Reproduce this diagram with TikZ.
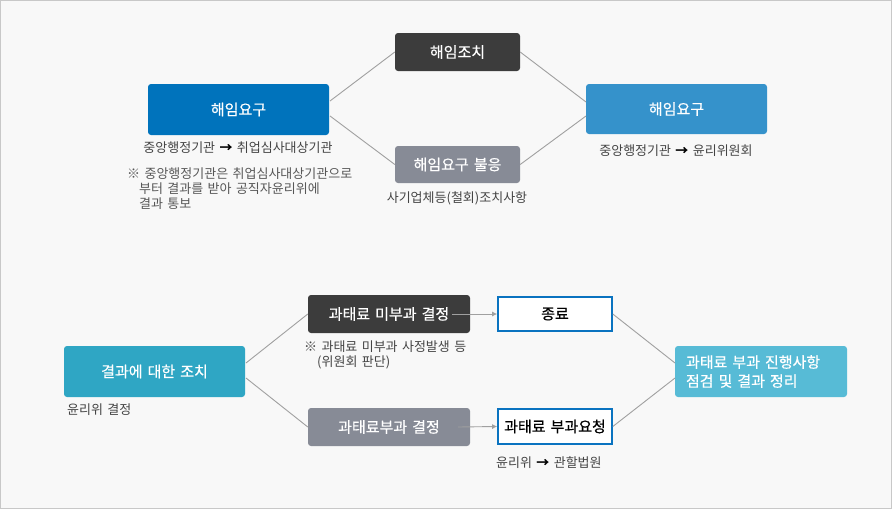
\documentclass[tikz,border=0pt]{standalone}
\usepackage{fontspec}
\setmainfont[WordSpace=1.5]{Noto Sans CJK KR}
\newfontfamily\medfont[WordSpace=1.5,FakeBold=0.6]{Noto Sans CJK KR}
\usetikzlibrary{arrows.meta}
\definecolor{bgc}{HTML}{F8F8F8}
\definecolor{framec}{HTML}{C8C8C8}
\definecolor{darkc}{HTML}{3C3C3C}
\definecolor{blueA}{HTML}{0073BC}
\definecolor{blueB}{HTML}{3592CB}
\definecolor{grayc}{HTML}{878B96}
\definecolor{tealA}{HTML}{2FA6C4}
\definecolor{tealB}{HTML}{57BBD6}
\definecolor{outl}{HTML}{0A73C0}
\definecolor{linec}{HTML}{A0A0A0}
\definecolor{txtc}{HTML}{444444}
\tikzset{
  box/.style={rounded corners=3pt, inner sep=0pt, text=white, font=\medfont\fontsize{15}{17}\selectfont},
  wbox/.style={draw=outl, line width=1.6pt, fill=white, inner sep=0pt, text=black, font=\medfont\fontsize{15}{17}\selectfont},
  conn/.style={draw=linec, line width=0.9pt},
  arr/.style={draw=linec, line width=0.9pt, -{Latex[length=5pt,width=5pt]}},
  lbl/.style={text=txtc, font=\fontsize{13}{15}\selectfont, inner sep=0pt},
}
\begin{document}
\begin{tikzpicture}[x=1pt,y=-1pt]
\fill[bgc] (0,0) rectangle (892,509);
\draw[framec, line width=1pt] (0.5,0.5) rectangle (891.5,508.5);
% top
\node[box, fill=blueA, minimum width=181pt, minimum height=51pt] (req1) at (238.5,109.5) {해임요구};
\node[box, fill=darkc, minimum width=125pt, minimum height=38pt] (act) at (457.5,52) {해임조치};
\node[box, fill=grayc, minimum width=125pt, minimum height=37pt] (ref) at (457.5,164.5) {해임요구 불응};
\node[box, fill=blueB, minimum width=181pt, minimum height=50pt] (req2) at (676.5,109) {해임요구};
\coordinate (r1a) at (330,101);
\coordinate (r1b) at (330,116);
\coordinate (r2a) at (586,102);
\coordinate (r2b) at (586,116);
\draw[conn] (r1a) -- (act.west);
\draw[conn] (r1b) -- (ref.west);
\draw[conn] (act.east) -- (r2a);
\draw[conn] (ref.east) -- (r2b);
\node[lbl] (l1) at (238,148) {중앙행정기관 \textcolor{black}{\textbf{→}} 취업심사대상기관};
\node[lbl, anchor=north west, align=left, text=txtc!90, font=\fontsize{13}{15}\selectfont] (n1) at (127,168) {※ 중앙행정기관은 취업심사대상기관으로\\\hspace*{12pt}부터 결과를 받아 공직자윤리위에\\\hspace*{12pt}결과 통보};
\node[lbl] (l2) at (457,198) {사기업체등(철회)조치사항};
\node[lbl] (l3) at (676,151) {중앙행정기관 \textcolor{black}{\textbf{→}} 윤리위원회};
% bottom
\node[box, fill=tealA, minimum width=181pt, minimum height=51pt] (res) at (154.5,371.5) {결과에 대한 조치};
\node[box, fill=darkc, minimum width=162pt, minimum height=38pt] (nof) at (389,314) {과태료 미부과 결정};
\node[box, fill=grayc, minimum width=162pt, minimum height=38pt] (fin) at (389,427) {과태료부과 결정};
\node[wbox, minimum width=114pt, minimum height=34pt] (end) at (555,314) {종료};
\node[wbox, minimum width=114pt, minimum height=35pt] (reqf) at (555,426.5) {과태료 부과요청};
\node[box, fill=tealB, minimum width=172pt, minimum height=51pt, align=left, text width=150pt, font=\medfont\fontsize{15}{19}\selectfont] (chk) at (761,371.5) {과태료 부과 진행사항\\점검 및 결과 정리};
\coordinate (ra) at (246,363);
\coordinate (rb) at (246,378);
\coordinate (ca) at (675,363);
\coordinate (cb) at (675,378);
\coordinate (s1) at (452,314);
\coordinate (s2) at (458,427);
\draw[conn] (ra) -- (nof.west);
\draw[conn] (rb) -- (fin.west);
\draw[conn] (end.east) -- (ca);
\draw[conn] (reqf.east) -- (cb);
\draw[arr] (s1) -- (end.west);
\draw[arr] (s2) -- (reqf.west);
\node[lbl, anchor=north west, align=left] (n2) at (304,341) {※ 과태료 미부과 사정발생 등\\\hspace*{13pt}(위원회 판단)};
\node[lbl, anchor=west] (l4) at (67,410) {윤리위 결정};
\node[lbl, anchor=west] (l5) at (496,463) {윤리위 \textcolor{black}{\textbf{→}} 관할법원};
\end{tikzpicture}
\end{document}
